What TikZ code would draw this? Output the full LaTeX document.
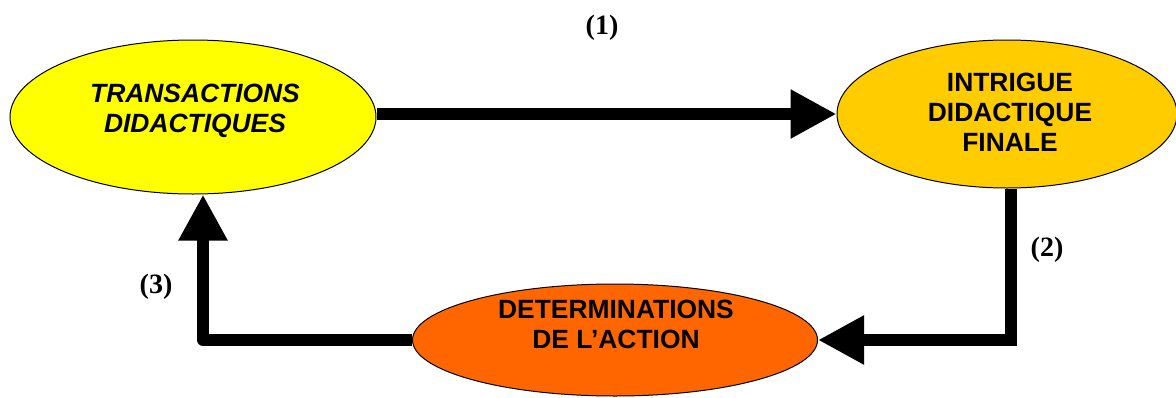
\documentclass[tikz,border=0pt]{standalone}
\usepackage{fontspec}
\setmainfont{Liberation Sans}
\newfontfamily\labfont{Liberation Serif}
\usetikzlibrary{arrows.meta,shapes.geometric}
\definecolor{yellowc}{HTML}{FFFF00}
\definecolor{goldc}{HTML}{FFCC00}
\definecolor{orangec}{HTML}{FF6600}
\begin{document}
\begin{tikzpicture}[x=1pt,y=-1pt,
  blob/.style={ellipse,draw=black,line width=1pt,inner sep=0pt},
  txt/.style={align=center,font=\fontsize{26.4}{30}\selectfont\bfseries,inner sep=0pt},
  conn/.style={line width=12pt,-{Triangle[length=46pt,width=46pt]}},
  lab/.style={font=\labfont\fontsize{28}{30}\selectfont\bfseries,inner sep=0pt}]
\useasboundingbox (0,0) rectangle (1176,397);
% ellipses
\node[blob,fill=yellowc,minimum width=366pt,minimum height=154pt] (yellow) at (193,117) {};
\node[blob,fill=goldc,minimum width=340pt,minimum height=148pt] (gold) at (1007,114) {};
\node[blob,fill=orangec,minimum width=405pt,minimum height=112pt] (orange) at (615,340) {};
% texts
\node[txt] (t1) at (195,111) {\itshape TRANSACTIONS\\\itshape DIDACTIQUES};
\node[txt] (t2) at (1010,112) {INTRIGUE\\DIDACTIQUE\\FINALE};
\node[txt] (t3) at (616,324) {DETERMINATIONS\\DE L’ACTION};
% connectors
\draw[conn] (yellow.east |- gold.west) -- (gold.west);
\draw[conn] ([xshift=4pt]gold.south) -- ([xshift=4pt]gold.south |- orange.east) -- (orange.east);
\draw[conn,line join=round] (orange.west) -- ([xshift=10pt]yellow.south |- orange.west) -- ([xshift=10pt]yellow.south);
% labels
\node[lab] (l1) at (602,28) {(1)};
\node[lab] (l2) at (1047,250) {(2)};
\node[lab] (l3) at (156,287) {(3)};
\end{tikzpicture}
\end{document}
